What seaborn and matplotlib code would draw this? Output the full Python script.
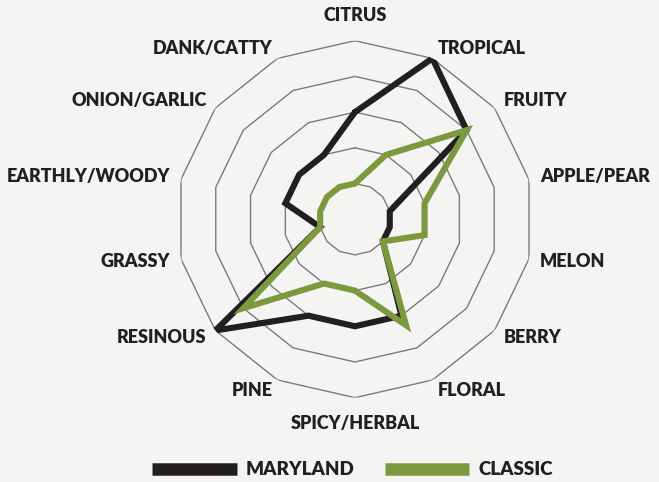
import numpy as np
import pandas as pd
import matplotlib
matplotlib.use("Agg")
import matplotlib.pyplot as plt
from matplotlib.lines import Line2D
import seaborn as sns

categories = ["CITRUS", "TROPICAL", "FRUITY", "APPLE/PEAR", "MELON", "BERRY", "FLORAL",
              "SPICY/HERBAL", "PINE", "RESINOUS", "GRASSY", "EARTHLY/WOODY",
              "ONION/GARLIC", "DANK/CATTY"]
maryland = [3, 5, 4, 1, 1, 1, 3, 3, 3, 5, 1, 2, 2, 2]
classic = [1, 2, 4, 2, 2, 1, 3.3, 2, 2, 4, 1, 1, 1, 1]
series_names = ["MARYLAND", "CLASSIC"]
ring_levels = [1, 2, 3, 4, 5]

sns.set_theme(style="white")
plt.rcParams["font.family"] = ["Lato", "DejaVu Sans"]

BG = "#f4f4f2"
INK = "#231f20"
GREEN = "#7b9a3f"
GRID = "#7a7a7a"

n = len(categories)
angles = np.arange(n) * 2 * np.pi / n

rows = []
for name, vals in zip(series_names, [maryland, classic]):
    for cat, ang, v in zip(categories + [categories[0]], list(angles) + [2 * np.pi], vals + [vals[0]]):
        rows.append({"series": name, "category": cat, "theta": ang, "value": v})
df = pd.DataFrame(rows)

fig = plt.figure(figsize=(6.59, 4.82), dpi=100, facecolor=BG)
ax = fig.add_axes([0.2678, 0.1749, 0.5417, 0.7407], projection="polar")
ax.set_facecolor("none")
ax.set_theta_zero_location("N")
ax.set_theta_direction(-1)
ax.set_ylim(0, 5)
ax.grid(False)
ax.spines["polar"].set_visible(False)
ax.set_xticks([])
ax.set_yticks([])

ring_theta = np.append(angles, 2 * np.pi)
for lvl in ring_levels:
    ax.plot(ring_theta, [lvl] * len(ring_theta), color=GRID, lw=1.0, zorder=1)

palette = {"MARYLAND": INK, "CLASSIC": GREEN}
for name in series_names:
    sub = df[df["series"] == name]
    sns.lineplot(data=sub, x="theta", y="value", ax=ax, color=palette[name], lw=4.4,
                 sort=False, estimator=None, legend=False, zorder=3,
                 solid_joinstyle="miter")
ax.set_xlabel("")
ax.set_ylabel("")

for cat, ang in zip(categories, angles):
    s = np.sin(ang)
    if abs(s) < 1e-6:
        r, ha = 5.71, "center"
    else:
        r, ha = 5.32, ("left" if s > 0 else "right")
    ax.text(ang, r, cat, ha=ha, va="center", fontsize=13, fontweight="heavy",
            color=INK, clip_on=False)

handles = [Line2D([0], [0], color=INK, lw=9, solid_capstyle="butt"),
           Line2D([0], [0], color=GREEN, lw=9, solid_capstyle="butt")]
leg = fig.legend(handles, series_names, loc="center", bbox_to_anchor=(0.535, 0.025),
                 ncol=2, frameon=False, handlelength=4.5, handletextpad=0.5,
                 columnspacing=1.6, prop={"size": 13.5, "weight": "heavy"})
for t in leg.get_texts():
    t.set_color(INK)

fig.savefig("out.png", dpi=100, facecolor=BG)
